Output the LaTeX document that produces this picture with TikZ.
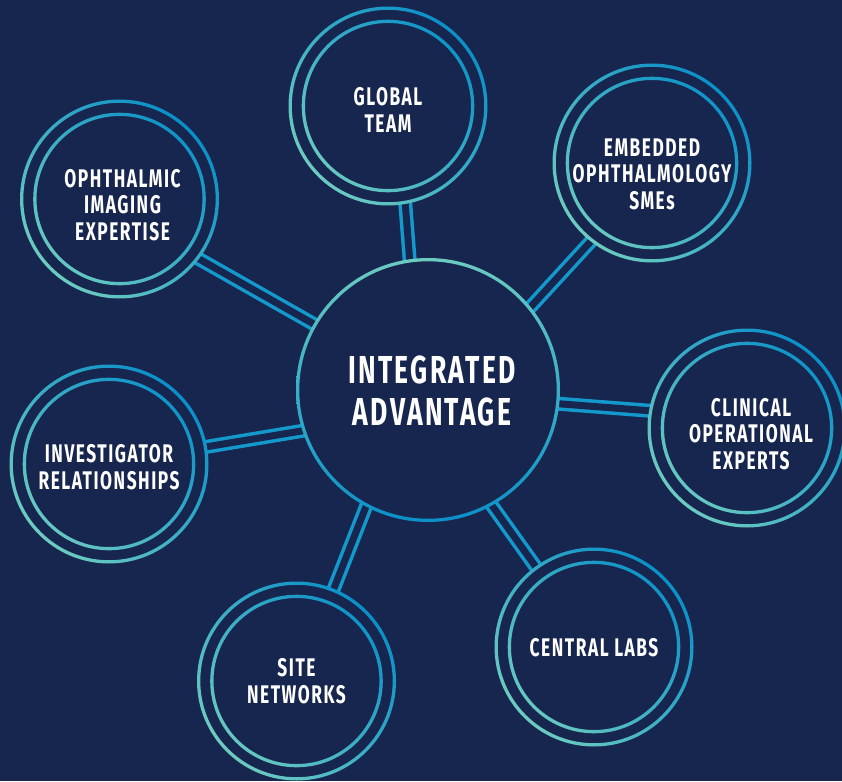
\documentclass[tikz,border=0pt]{standalone}
\usepackage{fontspec}
\setmainfont{Fira Sans}
\newfontfamily\tagfont{Fira Sans}[FakeStretch=0.68,LetterSpace=6]
\newfontfamily\hubfont{Fira Sans}[FakeStretch=0.68,LetterSpace=6]
\usetikzlibrary{calc}

\definecolor{navy}{HTML}{17264F}
\definecolor{ringteal}{HTML}{6CCBC0}
\definecolor{ringblue}{HTML}{0A90C8}
\definecolor{linkblue}{HTML}{1399CB}

\tikzset{
    sat/.style={circle, minimum size=199pt, inner sep=0pt},
    tag/.style={text=white, align=center, inner sep=0pt,
        font=\tagfont\bfseries\fontsize{25.5}{26.5}\selectfont},
    hub/.style={circle, minimum size=264pt, inner sep=0pt},
    hubtag/.style={text=white, align=center, inner sep=0pt,
        font=\hubfont\bfseries\fontsize{39}{41.7}\selectfont},
    link/.style={draw=linkblue, line width=3.5pt, double=navy, double distance=7pt,
        shorten <=-2.5pt, shorten >=-2.5pt},
    ring/.style={even odd rule, top color=ringblue, bottom color=ringteal, shading angle=-45},
    hubring/.style={even odd rule, top color=ringteal, bottom color=ringblue}
}

\begin{document}
\begin{tikzpicture}[x=1pt, y=-1pt]
    % Background
    \fill[navy] (0,0) rectangle (842,781);
    \useasboundingbox (0,0) rectangle (842,781);

    % Hub and satellites
    \node[hub, label={[hubtag, xshift=4pt, yshift=-1pt]center:INTEGRATED\\ADVANTAGE}] (hub) at (428,390) {};
    \node[sat, label={[tag, yshift=-4pt]center:GLOBAL\\TEAM}] (global) at (388,106) {};
    \node[sat, label={[tag, xshift=3pt, yshift=-6pt]center:OPHTHALMIC\\IMAGING\\EXPERTISE}] (ophth) at (119.5,199) {};
    \node[sat, label={[tag, yshift=-11pt]center:EMBEDDED\\OPHTHALMOLOGY\\SMEs}] (embed) at (652,163) {};
    \node[sat, label={[tag, xshift=4pt, yshift=-6pt]center:CLINICAL\\OPERATIONAL\\EXPERTS}] (clinic) at (747,428) {};
    \node[sat, label={[tag, yshift=-3pt]center:INVESTIGATOR\\RELATIONSHIPS}] (invest) at (109,464) {};
    \node[sat, label={[tag]center:SITE\\NETWORKS}] (site) at (296.5,681) {};
    \node[sat, label={[tag, yshift=-1pt]center:CENTRAL LABS}] (labs) at (594,647) {};

    % Double links
    \foreach \a/\n/\b in {98/global/280, 150/ophth/323, 39/embed/232, 354/clinic/170,
                          198/invest/10, 242/site/68, 299/labs/126} {
        \draw[link] (hub.\a) -- (\n.\b);
    }

    % Rings
    \shade[hubring] (hub) circle (132) circle (128.7);
    \foreach \n in {global, ophth, embed, clinic, invest, site, labs} {
        \shade[ring] (\n) circle (99.5) circle (96.2) (\n) circle (86.3) circle (83);
    }
\end{tikzpicture}
\end{document}
